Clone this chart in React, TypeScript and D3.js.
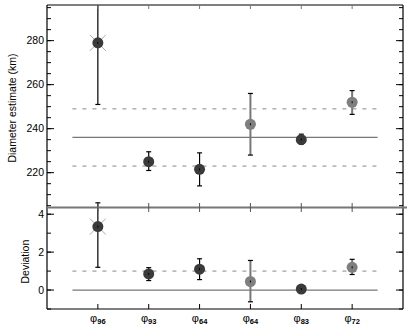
import React, { useEffect, useRef } from 'react';
import * as d3 from 'd3';

// categories (subscripts of phi)
const labels = ['96', '93', '64', '64', '83', '72'];
const shade = ['dark', 'dark', 'dark', 'light', 'dark', 'light'];
const crossed = [true, false, false, false, false, false];

// diameter estimates (km) with error bars
const diam = [279, 225, 221.5, 242, 235, 252];
const diamLo = [251, 221, 214, 228, 233, 246.5];
const diamHi = [310, 229.5, 229, 256, 237.5, 257.3];

// deviation values with error bars
const dev = [3.35, 0.85, 1.1, 0.45, 0.05, 1.2];
const devLo = [1.2, 0.5, 0.55, -0.62, -0.12, 0.82];
const devHi = [4.6, 1.18, 1.65, 1.56, 0.22, 1.62];

// reference lines
const diamMean = 236;
const diamBand = [223, 249];
const devRef = [0, 1];

const App = () => {
    const ref = useRef<SVGSVGElement>(null);

    useEffect(() => {
        const width = 407;
        const height = 330;
        const left = 47, right = 403, top = 5, mid = 207, bottom = 309;
        const font = 'Liberation Sans, Arial, sans-serif';

        const svg = d3.select(ref.current);
        svg.selectAll('*').remove();
        svg.attr('width', width).attr('height', height);

        const x = d3.scaleLinear().domain([0, 7]).range([left, right]);
        const yTop = d3.scaleLinear().domain([204.4, 296.2]).range([mid, top]);
        const yBot = d3.scaleLinear().domain([-1, 4.38]).range([bottom, mid]);

        const idx = d3.range(labels.length);

        const clipTop = svg.append('clipPath').attr('id', 'clipTop');
        clipTop.append('rect').attr('x', left).attr('y', top).attr('width', right - left).attr('height', mid - top);

        const drawPanel = (
            y: d3.ScaleLinear<number, number>,
            vals: number[], lo: number[], hi: number[],
            solid: number[], dashed: number[],
            majors: number[], minors: number[],
            clip: string | null
        ) => {
            const g = svg.append('g');
            if (clip) g.attr('clip-path', `url(#${clip})`);

            // reference lines
            solid.forEach(v => {
                g.append('line')
                    .attr('x1', x(0.5)).attr('x2', x(6.5))
                    .attr('y1', y(v)).attr('y2', y(v))
                    .attr('stroke', '#777').attr('stroke-width', 1.2);
            });
            dashed.forEach(v => {
                g.append('line')
                    .attr('x1', x(0.5)).attr('x2', x(6.5))
                    .attr('y1', y(v)).attr('y2', y(v))
                    .attr('stroke', '#888').attr('stroke-width', 1)
                    .attr('stroke-dasharray', '4,6');
            });

            // y ticks, both sides, inward
            minors.forEach(v => {
                svg.append('line').attr('x1', left).attr('x2', left + 4)
                    .attr('y1', y(v)).attr('y2', y(v)).attr('stroke', '#000');
                svg.append('line').attr('x1', right).attr('x2', right - 4)
                    .attr('y1', y(v)).attr('y2', y(v)).attr('stroke', '#000');
            });
            majors.forEach(v => {
                svg.append('line').attr('x1', left).attr('x2', left + 7)
                    .attr('y1', y(v)).attr('y2', y(v)).attr('stroke', '#000');
                svg.append('line').attr('x1', right).attr('x2', right - 7)
                    .attr('y1', y(v)).attr('y2', y(v)).attr('stroke', '#000');
                svg.append('text')
                    .attr('x', left - 3).attr('y', y(v) + 3.6)
                    .attr('text-anchor', 'end')
                    .attr('font-family', font).attr('font-size', 10.5)
                    .text(d3.format('d')(v));
            });

            // error bars
            idx.forEach(i => {
                const light = shade[i] === 'light';
                g.append('line')
                    .attr('x1', x(i + 1)).attr('x2', x(i + 1))
                    .attr('y1', y(lo[i])).attr('y2', y(hi[i]))
                    .attr('stroke', light ? '#777' : '#000').attr('stroke-width', light ? 2 : 1.2);
                [lo[i], hi[i]].forEach(v => {
                    g.append('line')
                        .attr('x1', x(i + 1) - 2.5).attr('x2', x(i + 1) + 2.5)
                        .attr('y1', y(v)).attr('y2', y(v))
                        .attr('stroke', '#000').attr('stroke-width', 1.2);
                });
            });

            // markers
            idx.forEach(i => {
                const cx = x(i + 1), cy = y(vals[i]);
                if (crossed[i]) {
                    [[-1, -1], [1, -1]].forEach(([a, b]) => {
                        g.append('line')
                            .attr('x1', cx - 8 * a).attr('y1', cy - 8 * b)
                            .attr('x2', cx + 8 * a).attr('y2', cy + 8 * b)
                            .attr('stroke', '#aaa').attr('stroke-width', 1);
                    });
                }
                g.append('circle')
                    .attr('cx', cx).attr('cy', cy).attr('r', 5.5)
                    .attr('fill', shade[i] === 'light' ? '#7f7f7f' : '#3a3a3a');
                g.append('line')
                    .attr('x1', cx).attr('x2', cx)
                    .attr('y1', cy - 1).attr('y2', cy + 1)
                    .attr('stroke', '#000');
            });
        };

        drawPanel(yTop, diam, diamLo, diamHi, [diamMean], diamBand,
            d3.range(220, 281, 20), d3.range(205, 296, 5), 'clipTop');
        drawPanel(yBot, dev, devLo, devHi, [devRef[0]], [devRef[1]],
            d3.range(0, 5, 2), d3.range(-1, 5, 1), null);

        // frame
        svg.append('line').attr('x1', left).attr('x2', right).attr('y1', top).attr('y2', top)
            .attr('stroke', '#000').attr('stroke-width', 1.2);
        svg.append('line').attr('x1', left).attr('x2', right).attr('y1', bottom).attr('y2', bottom)
            .attr('stroke', '#000').attr('stroke-width', 1.2);
        svg.append('line').attr('x1', left).attr('x2', left).attr('y1', top).attr('y2', bottom)
            .attr('stroke', '#000').attr('stroke-width', 1.2);
        svg.append('line').attr('x1', right).attr('x2', right).attr('y1', top).attr('y2', bottom)
            .attr('stroke', '#000').attr('stroke-width', 1.2);
        svg.append('line').attr('x1', left).attr('x2', width).attr('y1', mid + 0.5).attr('y2', mid + 0.5)
            .attr('stroke', '#777').attr('stroke-width', 2);

        // x ticks
        idx.forEach(i => {
            const xx = x(i + 1);
            svg.append('line').attr('x1', xx).attr('x2', xx).attr('y1', top).attr('y2', top + 4).attr('stroke', '#777');
            svg.append('line').attr('x1', xx).attr('x2', xx).attr('y1', mid - 4).attr('y2', mid + 5).attr('stroke', '#555');
            svg.append('line').attr('x1', xx).attr('x2', xx).attr('y1', bottom).attr('y2', bottom - 5).attr('stroke', '#000');
            const t = svg.append('text')
                .attr('x', xx).attr('y', 322)
                .attr('text-anchor', 'middle')
                .attr('font-family', font).attr('font-size', 11);
            t.append('tspan').text('φ');
            t.append('tspan').attr('dy', 2).attr('font-size', 7.5).attr('font-weight', 'bold').text(labels[i]);
        });

        // axis titles
        svg.append('text')
            .attr('transform', `translate(16,${(top + mid) / 2 + 2}) rotate(-90)`)
            .attr('text-anchor', 'middle')
            .attr('font-family', font).attr('font-size', 10.5)
            .text('Diameter estimate (km)');
        svg.append('text')
            .attr('transform', `translate(29,${yBot(1.5)}) rotate(-90)`)
            .attr('text-anchor', 'middle')
            .attr('font-family', font).attr('font-size', 10.5)
            .text('Deviation');
    }, []);

    return <svg ref={ref} style={{ position: 'absolute', left: 0, top: 0 }}></svg>;
};

export default App;
